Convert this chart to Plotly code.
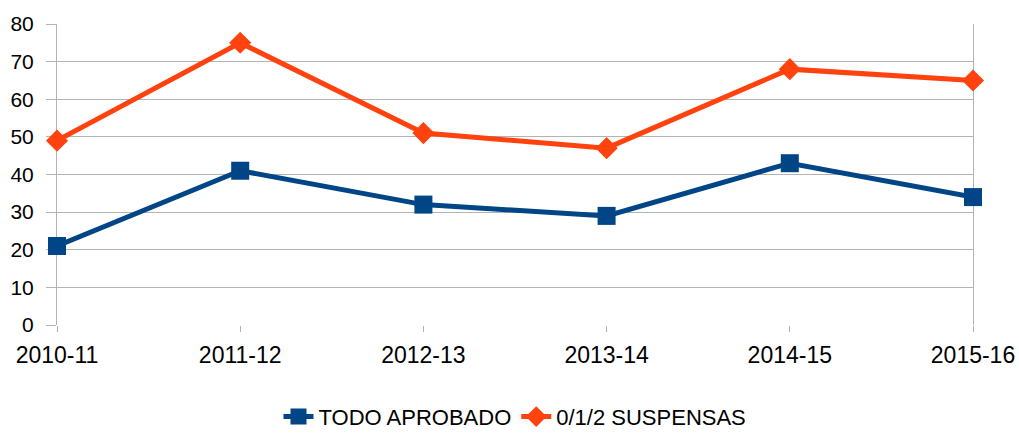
import plotly.graph_objects as go

categories = ["2010-11", "2011-12", "2012-13", "2013-14", "2014-15", "2015-16"]
todo_aprobado = [21, 41, 32, 29, 43, 34]
suspensas = [49, 75, 51, 47, 68, 65]
y_ticks = [0, 10, 20, 30, 40, 50, 60, 70, 80]

BLUE = "#004586"
ORANGE = "#ff420e"
GRID = "#b3b3b3"
FONT = "Liberation Sans"

fig = go.Figure()
fig.add_trace(go.Scatter(
    x=categories, y=todo_aprobado, name="TODO APROBADO",
    mode="lines+markers", cliponaxis=False,
    line=dict(color=BLUE, width=5),
    marker=dict(symbol="square", size=18, color=BLUE),
))
fig.add_trace(go.Scatter(
    x=categories, y=suspensas, name="0/1/2 SUSPENSAS",
    mode="lines+markers", cliponaxis=False,
    line=dict(color=ORANGE, width=5),
    marker=dict(symbol="diamond", size=17, color=ORANGE),
))

fig.update_layout(
    width=1019, height=434,
    margin=dict(l=57, r=46, t=24, b=109, autoexpand=False),
    paper_bgcolor="white", plot_bgcolor="white",
    font=dict(family=FONT, size=21, color="black"),
    showlegend=True,
    legend=dict(orientation="h", x=0.5, xanchor="center", y=-0.305, yanchor="middle",
                font=dict(family=FONT, size=22), itemwidth=30, tracegroupgap=0,
                borderwidth=0),
)
fig.update_xaxes(
    type="category", range=[0, 5], automargin=False,
    showgrid=False, zeroline=False,
    showline=False, layer="below traces",
    ticks="outside", ticklen=6, tickcolor=GRID, tickwidth=1,
    tickfont=dict(family=FONT, size=23, color="black"),
    ticklabelstandoff=3,
)
fig.update_yaxes(
    range=[0, 80], tickvals=y_ticks, automargin=False,
    showgrid=True, gridcolor=GRID, gridwidth=1,
    zeroline=False,
    showline=True, linecolor=GRID, linewidth=1, mirror=True,
    layer="below traces",
    ticks="outside", ticklen=10, tickcolor=GRID, tickwidth=1,
    tickfont=dict(family=FONT, size=21, color="black"),
    ticklabelstandoff=8,
)

fig.write_html("out.html", config={"displayModeBar": False},
               post_script="document.body.style.margin='0';")
